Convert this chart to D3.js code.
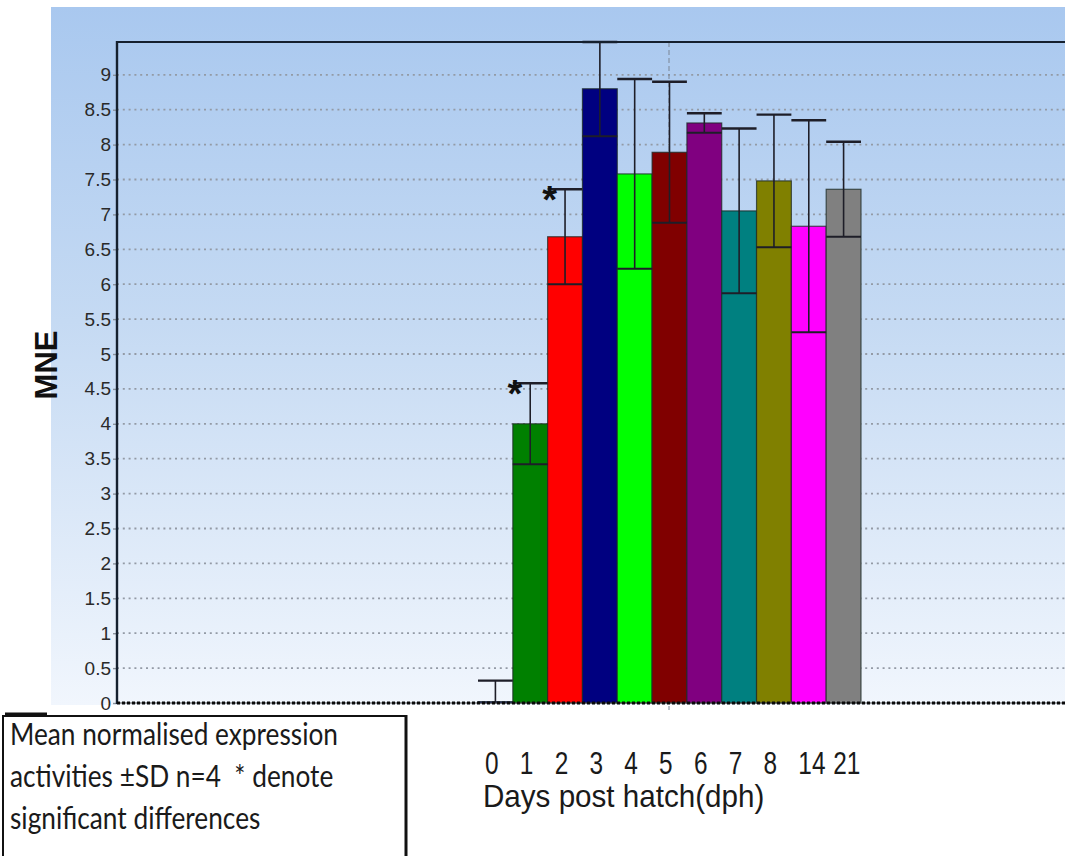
<!DOCTYPE html>
<html><head><meta charset="utf-8">
<script src="https://cdn.jsdelivr.net/npm/d3@7"></script>
<style>body{margin:0;background:#fff} svg{display:block} text{white-space:pre}</style>
</head><body>
<svg id="c" width="1065" height="856"></svg>
<script>
// ---- data ----
const days = ["0","1","2","3","4","5","6","7","8","14","21"];
const mne  = [0.02, 4.00, 6.68, 8.80, 7.58, 7.89, 8.31, 7.05, 7.48, 6.83, 7.36];
const sd   = [0.30, 0.58, 0.68, 0.68, 1.36, 1.01, 0.14, 1.18, 0.95, 1.52, 0.68];
const barColors = ["#0000c0","#008000","#ff0000","#000080","#00ff00","#800000","#800080","#008080","#808000","#ff00ff","#808080"];
const significant = ["1","2"];
const yTicks = [0,0.5,1,1.5,2,2.5,3,3.5,4,4.5,5,5.5,6,6.5,7,7.5,8,8.5,9];
const yTickLabels = ["0","0.5","1","1.5","2","2.5","3","3.5","4","4.5","5","5.5","6","6.5","7","7.5","8","8.5","9"];
const yTitle = "MNE";
const xTitle = "Days post hatch(dph)";
const noteLines = ["Mean normalised expression","activities \u00B1SD n=4  * denote","significant differences"];

// ---- layout ----
const W = 1065, H = 856;
const plot = {left:117, top:42, right:1221, bottom:703};
const svg = d3.select("#c");
const sans = "'Liberation Sans', Arial, sans-serif";

const defs = svg.append("defs");
const grad = defs.append("linearGradient").attr("id","bg")
  .attr("x1",0).attr("y1",0).attr("x2",0).attr("y2",1);
grad.append("stop").attr("offset","0%").attr("stop-color","#a9c8ef");
grad.append("stop").attr("offset","45%").attr("stop-color","#c5daf3");
grad.append("stop").attr("offset","100%").attr("stop-color","#f1f6fd");

svg.append("rect").attr("x",51).attr("y",7).attr("width",W-51).attr("height",698)
  .attr("fill","url(#bg)");

const y = d3.scaleLinear().domain([0,9.47]).range([plot.bottom, plot.top]);
const x = d3.scaleBand().domain(days).range([478,861]).paddingInner(0).paddingOuter(0);
const center = (plot.left + plot.right) / 2;

// gridlines
svg.append("g").selectAll("line").data(yTicks.filter(d => d > 0)).join("line")
  .attr("x1", plot.left).attr("x2", plot.right)
  .attr("y1", d => y(d)).attr("y2", d => y(d))
  .attr("stroke","#939aa5").attr("stroke-width",1.8).attr("stroke-dasharray","2,3.8");

// center dashed line
svg.append("line").attr("x1",center).attr("x2",center)
  .attr("y1",plot.top).attr("y2",plot.bottom+7)
  .attr("stroke","#7a8594").attr("stroke-width",1).attr("stroke-dasharray","5,3");

// bars
svg.append("g").selectAll("rect").data(days).join("rect")
  .attr("x", d => x(d)).attr("width", x.bandwidth())
  .attr("y", (d,i) => y(mne[i])).attr("height", (d,i) => y(0) - y(mne[i]))
  .attr("fill", (d,i) => barColors[i])
  .attr("stroke", "#1b2a24").attr("stroke-opacity",0.75).attr("stroke-width",1.2);

// error bars
const eb = svg.append("g").attr("stroke","#1e1e28").attr("stroke-width",1.6);
days.forEach((d,i) => {
  const cx = x(d) + x.bandwidth()/2;
  const hi = Math.min(mne[i] + sd[i], 9.47);
  const lo = Math.max(mne[i] - sd[i], 0);
  eb.append("line").attr("x1",cx).attr("x2",cx).attr("y1",y(lo)).attr("y2",y(hi));
  eb.append("line").attr("x1",x(d)).attr("x2",x(d)+x.bandwidth()).attr("y1",y(hi)).attr("y2",y(hi)).attr("stroke-width",2.4);
  if (mne[i] - sd[i] > 0)
    eb.append("line").attr("x1",x(d)).attr("x2",x(d)+x.bandwidth()).attr("y1",y(lo)).attr("y2",y(lo)).attr("stroke-width",2);
});

// asterisks
svg.append("g").selectAll("text").data(significant).join("text")
  .attr("x", d => x(d) + 2)
  .attr("y", d => { const i = days.indexOf(d); return y(mne[i] + sd[i]) + 24; })
  .attr("text-anchor","middle")
  .attr("font-family",sans).attr("font-weight","bold")
  .attr("font-size",38).attr("fill","#111").text("*");

// y axis
const yAxis = d3.axisLeft(y).tickValues(yTicks).tickSize(4).tickPadding(2)
  .tickFormat((d,i) => yTickLabels[i]);
const gy = svg.append("g").attr("transform",`translate(${plot.left},0)`).call(yAxis);
gy.select(".domain").remove();
gy.selectAll(".tick line").attr("stroke","#8a929c").attr("stroke-width",1.4);
gy.selectAll(".tick text").attr("font-family","'Liberation Sans Narrow','Liberation Sans',Arial,sans-serif")
  .attr("font-size",19).attr("fill","#2a2a2a");

// frame
svg.append("line").attr("x1",plot.left).attr("x2",W).attr("y1",plot.top).attr("y2",plot.top)
  .attr("stroke","#15202e").attr("stroke-width",2.2);
svg.append("line").attr("x1",plot.left).attr("x2",plot.left).attr("y1",plot.top-1).attr("y2",plot.bottom+1)
  .attr("stroke","#15202e").attr("stroke-width",2.4);
svg.append("line").attr("x1",plot.left).attr("x2",W).attr("y1",plot.bottom).attr("y2",plot.bottom)
  .attr("stroke","#444").attr("stroke-width",1);
svg.append("line").attr("x1",plot.left).attr("x2",W).attr("y1",plot.bottom).attr("y2",plot.bottom)
  .attr("stroke","#0a0a0a").attr("stroke-width",3).attr("stroke-dasharray","3,2");

// y title
svg.append("text").attr("transform","translate(57,365) rotate(-90)")
  .attr("text-anchor","middle").attr("font-family",sans)
  .attr("font-weight","bold").attr("font-size",31).attr("fill","#111").text(yTitle);

// x labels (condensed, tall glyphs)
svg.append("g").selectAll("text").data(days).join("text")
  .attr("transform", d => `translate(${x(d) + 7},774) scale(0.8,1)`)
  .attr("font-family",sans).attr("font-size",30.5).attr("fill","#1a1a1a").text(d => d);
svg.append("text").attr("transform","translate(483,807) scale(0.955,1)")
  .attr("font-family",sans).attr("font-size",31).attr("fill","#1a1a1a").text(xTitle);

// note box
svg.append("rect").attr("x",3).attr("y",716).attr("width",403).attr("height",150)
  .attr("fill","#fff").attr("stroke","#111").attr("stroke-width",2);
svg.append("line").attr("x1",406).attr("x2",406).attr("y1",715).attr("y2",H)
  .attr("stroke","#111").attr("stroke-width",3);
svg.append("line").attr("x1",5).attr("x2",47).attr("y1",714).attr("y2",714)
  .attr("stroke","#111").attr("stroke-width",3);
const note = svg.append("g");
const nt = note.selectAll("text").data(noteLines).join("text")
  .attr("x",0).attr("y",0)
  .attr("font-family","Lato, 'Open Sans', sans-serif")
  .attr("font-size",31).attr("fill","#1a1a1a").text(d => d);
const w0 = nt.nodes()[0].getComputedTextLength();
const sx = 328 / w0;
nt.attr("transform", (d,i) => `translate(10,${745 + i*42}) scale(${sx},1)`);
</script>
</body></html>
